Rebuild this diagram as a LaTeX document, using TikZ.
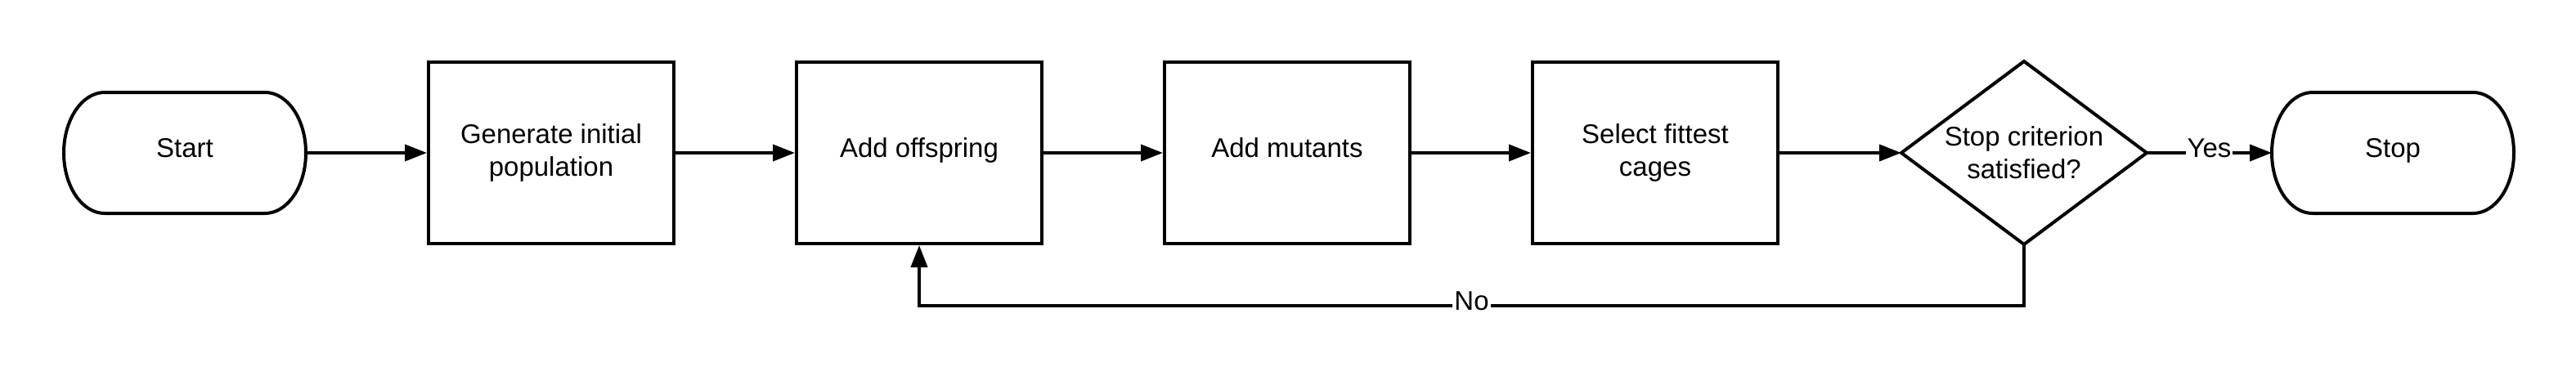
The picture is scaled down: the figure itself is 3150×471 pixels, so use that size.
\documentclass[tikz,border=0pt]{standalone}
\usepackage{fontspec}
\setmainfont{Liberation Sans}
\usetikzlibrary{arrows.meta}
\begin{document}
\begin{tikzpicture}[x=0.5pt,y=-0.5pt,
  every node/.style={font=\fontsize{16.5pt}{20pt}\selectfont},
  ln/.style={line width=2pt, draw=black},
  arr/.style={ln, -{Triangle[length=13.5pt,width=10pt]}},
  box/.style={draw, line width=2pt, minimum width=150pt, minimum height=111pt, inner sep=0pt, align=center},
  oneline/.style={text height=0.75em, text depth=0.25em},
  term/.style={minimum width=148pt, minimum height=74pt, inner sep=0pt, outer sep=0pt, oneline},
  dec/.style={minimum width=150pt, minimum height=112pt, inner sep=0pt, outer sep=0pt, align=center},
  lbl/.style={fill=white, inner sep=1pt, oneline}
]
\useasboundingbox (0,0) rectangle (3150,471);

\node[term] (s) at (226,187) {Start};
\node[box] (g) at (674,187) {Generate initial\\population};
\node[box, oneline] (o) at (1124,187) {Add offspring};
\node[box, oneline] (m) at (1574,187) {Add mutants};
\node[box] (f) at (2024,187) {Select fittest\\cages};
\node[dec] (d) at (2475,187) {Stop criterion\\satisfied?};
\node[term] (e) at (2926,187) {Stop};

% terminator outlines
\draw[ln] ([xshift=25pt]s.north west) -- ([xshift=-25pt]s.north east)
  arc[start angle=90, end angle=-90, x radius=25pt, y radius=37pt]
  -- ([xshift=25pt]s.south west)
  arc[start angle=270, end angle=90, x radius=25pt, y radius=37pt] -- cycle;
\draw[ln] ([xshift=25pt]e.north west) -- ([xshift=-25pt]e.north east)
  arc[start angle=90, end angle=-90, x radius=25pt, y radius=37pt]
  -- ([xshift=25pt]e.south west)
  arc[start angle=270, end angle=90, x radius=25pt, y radius=37pt] -- cycle;
% decision outline
\draw[ln] (d.north) -- (d.east) -- (d.south) -- (d.west) -- cycle;

% connectors
\draw[arr] (s.east) -- (g.west);
\draw[arr] (g.east) -- (o.west);
\draw[arr] (o.east) -- (m.west);
\draw[arr] (m.east) -- (f.west);
\draw[arr] (f.east) -- (d.west);
\draw[arr] (d.east) -- node[lbl] {Yes} (e.west);
\draw[arr] (d.south) -- ++(0,75) -| node[pos=0.25, lbl] {No} (o.south);
\end{tikzpicture}
\end{document}
